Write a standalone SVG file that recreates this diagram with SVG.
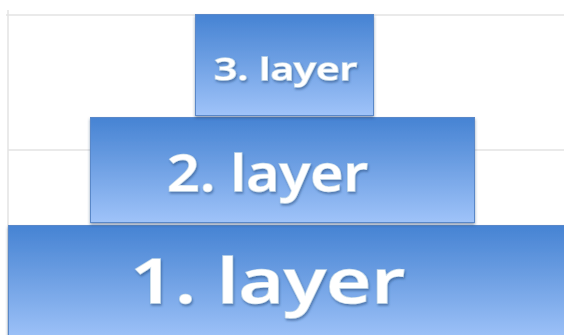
<svg xmlns="http://www.w3.org/2000/svg" width="564" height="335" viewBox="0 0 564 335">
<defs>
<linearGradient id="g" x1="0" y1="0" x2="0" y2="1">
<stop offset="0" stop-color="#4683d3"/>
<stop offset="0.45" stop-color="#6d9fe3"/>
<stop offset="1" stop-color="#9fc3f9"/>
</linearGradient>
<filter id="sh" x="-5%" y="-5%" width="110%" height="115%">
<feDropShadow dx="0" dy="2" stdDeviation="1.5" flood-color="#1e3f70" flood-opacity="0.5"/>
</filter>
<filter id="ts" x="-10%" y="-20%" width="120%" height="150%">
<feDropShadow dx="1" dy="2" stdDeviation="1.2" flood-color="#2a4f80" flood-opacity="0.55"/>
</filter>
</defs>
<style>
.grid{stroke:#e3e3e3;stroke-width:1.5;fill:none}
.box{fill:url(#g);stroke:#5a88c8;stroke-width:1}
.lbl{font-family:"Open Sans","Liberation Sans",sans-serif;font-weight:600;fill:#ffffff;stroke:#c7dbe9;stroke-width:1.4;paint-order:stroke;text-anchor:start}
</style>
<g id="grid">
<line class="grid" x1="6" y1="15" x2="564" y2="15"/>
<line class="grid" x1="8" y1="10" x2="8" y2="335"/>
<line class="grid" x1="8" y1="150" x2="564" y2="150"/>
</g>
<g id="layer1">
<rect class="box" x="8.5" y="225.5" width="560" height="115" filter="url(#sh)"/>
<text class="lbl" x="130" y="303" font-size="62" textLength="275" lengthAdjust="spacingAndGlyphs" filter="url(#ts)">1. layer</text>
</g>
<g id="layer2">
<rect class="box" x="90.5" y="117.5" width="384" height="105" filter="url(#sh)"/>
<text class="lbl" x="167" y="191" font-size="50" textLength="201" lengthAdjust="spacingAndGlyphs" filter="url(#ts)">2. layer</text>
</g>
<g id="layer3">
<rect class="box" x="195.5" y="14.5" width="178" height="101" filter="url(#sh)"/>
<text class="lbl" x="214" y="80" font-size="31" textLength="143" lengthAdjust="spacingAndGlyphs" filter="url(#ts)">3. layer</text>
</g>
</svg>
